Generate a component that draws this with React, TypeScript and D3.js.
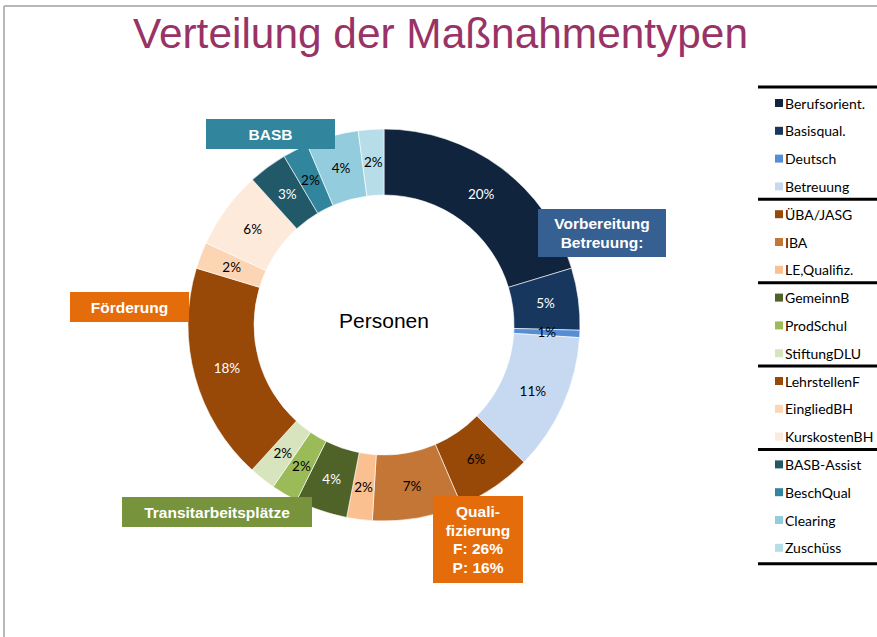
import React from "react";
import * as d3 from "d3";

const categories = [
  "Berufsorient.", "Basisqual.", "Deutsch", "Betreuung",
  "ÜBA/JASG", "IBA", "LE,Qualifiz.",
  "GemeinnB", "ProdSchul", "StiftungDLU",
  "LehrstellenF", "EingliedBH", "KurskostenBH",
  "BASB-Assist", "BeschQual", "Clearing", "Zuschüss",
];
const values = [20.3, 5.1, 0.6, 11.3, 6.2, 7.4, 2.1, 4.3, 2.2, 2.2, 17.9, 2.2, 6.4, 3.2, 2.1, 4.3, 2.1];
const colors = [
  "#10243E", "#17375E", "#558ED5", "#C6D9F1",
  "#984807", "#C47636", "#FAC090",
  "#4F6228", "#9BBB59", "#D7E4BD",
  "#984807", "#FCD5B5", "#FDEADA",
  "#215968", "#31859C", "#93CDDD", "#B7DEE8",
];
const labelColors = [
  "#fff", "#fff", "#000", "#000",
  "#000", "#000", "#000",
  "#fff", "#000", "#000",
  "#fff", "#000", "#000",
  "#fff", "#000", "#000", "#000",
];
const legendGroupSizes = [4, 3, 3, 3, 4];

const callouts = [
  { lines: ["BASB"], x: 206, y: 119, w: 129, h: 30, fill: "#31859C" },
  { lines: ["Vorbereitung", "Betreuung:"], x: 538, y: 209, w: 128, h: 48, fill: "#376092" },
  { lines: ["Förderung"], x: 70, y: 292, w: 119, h: 30, fill: "#E46C0A" },
  { lines: ["Transitarbeitsplätze"], x: 122, y: 497, w: 190, h: 30, fill: "#77933C" },
  { lines: ["Quali-", "fizierung", "F: 26%", "P: 16%"], x: 433, y: 496, w: 90, h: 87, fill: "#E46C0A" },
];

const W = 877;
const H = 637;

export default function App() {
  const cx = 384;
  const cy = 325;
  const rOuter = 196;
  const rInner = 130;
  const total = d3.sum(values);
  const pie = d3.pie<number>().sort(null).value((d) => d)(values);
  const arc = d3.arc<d3.PieArcDatum<number>>().innerRadius(rInner).outerRadius(rOuter);
  const labelArc = d3.arc<d3.PieArcDatum<number>>().innerRadius(163).outerRadius(163);
  const fmt = d3.format(".0%");

  const legendY = d3.scaleLinear().domain([0, categories.length - 1]).range([103, 547.8]);
  const step = legendY(1) - legendY(0);
  const sepYs: number[] = [legendY(0) - 16];
  let acc = 0;
  legendGroupSizes.forEach((n, gi) => {
    acc += n;
    if (gi < legendGroupSizes.length - 1) sepYs.push(legendY(acc - 1) + step / 2 - 1);
  });
  sepYs.push(legendY(categories.length - 1) + 16);

  return (
    <svg width={W} height={H} style={{ position: "absolute", left: 0, top: 0, background: "#fff" }}>
      <rect x={0} y={0} width={W} height={H} fill="#fff" />
      <line x1={4} y1={6} x2={W} y2={6} stroke="#a0a0a0" strokeWidth={1.5} />
      <line x1={4} y1={6} x2={4} y2={H} stroke="#a0a0a0" strokeWidth={1.5} />
      <text
        x={133}
        y={48}
        textLength={615}
        lengthAdjust="spacingAndGlyphs"
        fontFamily="Liberation Sans, Arial, sans-serif"
        fontSize={42}
        fill="#993366"
      >
        Verteilung der Maßnahmentypen
      </text>

      <g transform={`translate(${cx},${cy})`}>
        {pie.map((d, i) => (
          <path key={i} d={arc(d) || ""} fill={colors[i]} stroke="#fff" strokeWidth={0.6} />
        ))}
        {pie.map((d, i) => {
          const [lx, ly] = labelArc.centroid(d);
          return (
            <text
              key={"l" + i}
              x={lx}
              y={ly}
              textAnchor="middle"
              dominantBaseline="central"
              fontFamily="Lato, Carlito, sans-serif"
              fontSize={13.5}
              fill={labelColors[i]}
            >
              {fmt(d.data / total)}
            </text>
          );
        })}
        <text
          x={0}
          y={3}
          textAnchor="middle"
          fontFamily="Liberation Sans, Arial, sans-serif"
          fontSize={21}
          fill="#000"
        >
          Personen
        </text>
      </g>

      {callouts.map((c, i) => {
        const lh = 18.5;
        const startY = c.y + c.h / 2 - ((c.lines.length - 1) * lh) / 2;
        return (
          <g key={"c" + i}>
            <rect x={c.x} y={c.y} width={c.w} height={c.h} fill={c.fill} />
            {c.lines.map((t, j) => (
              <text
                key={j}
                x={c.x + c.w / 2}
                y={startY + j * lh}
                textAnchor="middle"
                dominantBaseline="central"
                fontFamily="Liberation Sans, Arial, sans-serif"
                fontWeight="bold"
                fontSize={15.5}
                fill="#fff"
              >
                {t}
              </text>
            ))}
          </g>
        );
      })}

      <g>
        {sepYs.map((y, i) => (
          <line key={"s" + i} x1={758} x2={W} y1={y} y2={y} stroke="#000" strokeWidth={3} />
        ))}
        {categories.map((c, i) => (
          <g key={"lg" + i} transform={`translate(0,${legendY(i)})`}>
            <rect x={775} y={-4} width={8} height={8} fill={colors[i]} />
            <text
              x={785}
              y={0}
              dominantBaseline="central"
              fontFamily="Lato, Carlito, sans-serif"
              fontSize={14}
              fill="#000"
            >
              {c}
            </text>
          </g>
        ))}
      </g>
    </svg>
  );
}
